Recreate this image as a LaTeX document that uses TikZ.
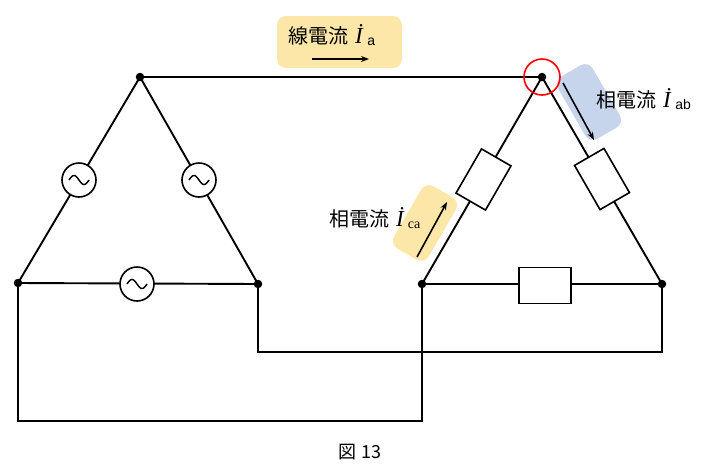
\documentclass[tikz,border=0pt]{standalone}
\usepackage{fontspec}
\newfontfamily\jp{Noto Sans CJK JP}
\newfontfamily\lserif{Liberation Serif}
\newfontfamily\lsans{Liberation Sans}
\usetikzlibrary{arrows.meta,calc}
\definecolor{labyel}{HTML}{FCE7A8}
\definecolor{labblue}{HTML}{C6D4EC}
\tikzset{
  wire/.style={line width=1.9pt, black},
  dotnode/.style={circle, fill=black, inner sep=0pt, minimum size=8.5pt},
  src/.style={circle, draw=black, line width=1.6pt, fill=white, minimum size=34pt, inner sep=0pt},
  load/.style={rectangle, draw=black, line width=1.6pt, fill=white, minimum width=51pt, minimum height=34pt, inner sep=0pt},
  labbox/.style={rounded corners=9pt, inner sep=0pt},
  lab/.style={font=\jp\fontsize{20}{22}\selectfont, inner sep=0pt, anchor=base west},
  curarrow/.style={line width=1.6pt, -{Stealth[length=8pt,width=6pt]}},
}
\newcommand{\curr}[2]{\kern7pt{\lserif\itshape\fontsize{23}{25}\selectfont İ}\kern0.5pt\raisebox{-2.5pt}{\fontsize{14}{16}\selectfont#1 #2}}
\begin{document}
\begin{tikzpicture}[x=1pt,y=-1pt]
\useasboundingbox (0,0) rectangle (702,475);
% label backgrounds
\node[labbox, fill=labyel, minimum width=125pt, minimum height=52pt] (boxa) at (339.5,42) {};
\node[labbox, fill=labblue, minimum width=72pt, minimum height=40pt, rotate=-60] (boxab) at (589,102) {};
\node[labbox, fill=labyel, minimum width=72pt, minimum height=40pt, rotate=60] (boxca) at (425,223) {};
% junctions
\coordinate (ST) at (140,77);
\coordinate (SL) at (18,283);
\coordinate (SR) at (258,284);
\coordinate (LT) at (542,77);
\coordinate (LL) at (422,284);
\coordinate (LR) at (662,284);
\coordinate (w1) at (258,352);
\coordinate (w2) at (662,352);
\coordinate (w3) at (18,421);
\coordinate (w4) at (422,421);
% wires
\draw[wire] (ST) -- (SL) -- (SR) -- cycle;
\draw[wire] (LT) -- (LL) -- (LR) -- cycle;
\draw[wire] (ST) -- (LT);
\draw[wire] (SR) -- (w1) -- (w2) -- (LR);
\draw[wire] (SL) -- (w3) -- (w4) -- (LL);
% sources
\foreach \n/\p in {s1/{(79,180)}, s2/{(199,180)}, s3/{(137,284)}}{
  \node[src] (\n) at \p {};
  \begin{scope}[shift={(\n.center)}]
  \draw[line width=1.4pt] plot[domain=-1:1, samples=40, smooth] ({\x*10}, {4.5*sin(\x*180)});
  \end{scope}
}
% loads
\node[load, rotate=60] (r1) at (483.5,179.5) {};
\node[load, rotate=-60] (r2) at (602,179) {};
\node[load, minimum height=36pt, minimum width=52pt] (r3) at (545,285.5) {};
% dots
\foreach \c in {ST,SL,SR,LT,LL,LR}{ \node[dotnode] at (\c) {}; }
% red circle
\node[circle, draw=red, line width=1.6pt, minimum size=36pt, inner sep=0pt] (mark) at (LT) {};
% labels and arrows
\node[lab] (ta) at (288,43) {線電流\curr{\lsans}{a}};
\coordinate (a1) at (312,59); \coordinate (a2) at (369,59);
\draw[curarrow] (a1) -- (a2);
\node[lab] (tab) at (596,107) {相電流\curr{\lsans}{ab}};
\coordinate (b1) at (563,83); \coordinate (b2) at (594,140);
\draw[curarrow] (b1) -- (b2);
\node[lab] (tca) at (329,226) {相電流\curr{\lserif}{ca}};
\coordinate (c1) at (417,257); \coordinate (c2) at (447,202);
\draw[curarrow] (c1) -- (c2);
\node[font=\jp\fontsize{18}{21}\selectfont, inner sep=0pt] (cap) at (360,452) {図 13};
\end{tikzpicture}
\end{document}
